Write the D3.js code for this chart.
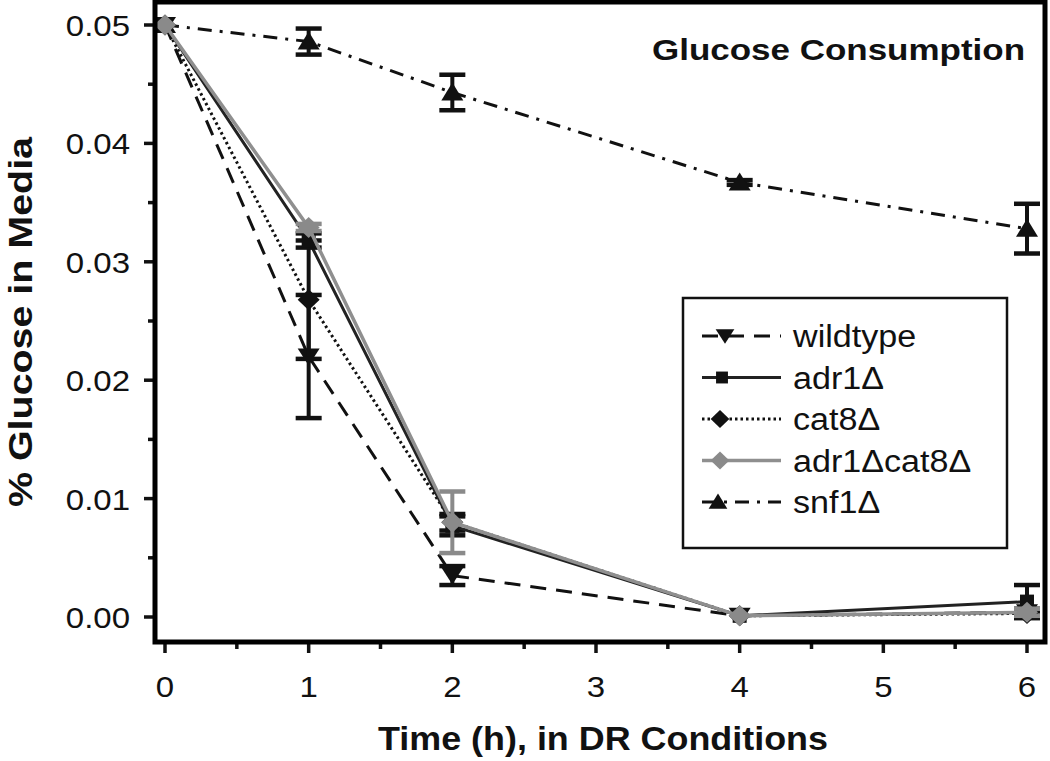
<!DOCTYPE html>
<html><head><meta charset="utf-8">
<script src="https://cdn.jsdelivr.net/npm/d3@7"></script>
<style>body{margin:0;background:#fff;} svg{display:block;font-family:"Liberation Sans",Arial,sans-serif;}</style>
</head><body>
<svg id="c" width="1050" height="761"></svg>
<script>
const times = [0, 1, 2, 4, 6];
const seriesNames = ["wildtype", "adr1Δ", "cat8Δ", "adr1Δcat8Δ", "snf1Δ"];
const wildtype = [0.0500, 0.0220, 0.0035, 0.0001, 0.0004];
const wildtypeErr = [0, 0.0052, 0.0008, 0.0001, 0.0003];
const adr1 = [0.0500, 0.0318, 0.0077, 0.0001, 0.0013];
const adr1Err = [0, 0.0006, 0.0008, 0.0001, 0.0014];
const cat8 = [0.0500, 0.0268, 0.0080, 0.0001, 0.0003];
const cat8Err = [0, 0.0050, 0.0007, 0.0001, 0.0002];
const adr1cat8 = [0.0500, 0.0329, 0.0080, 0.0001, 0.0004];
const adr1cat8Err = [0, 0.0003, 0.0026, 0.0001, 0.0003];
const snf1 = [0.0500, 0.0486, 0.0443, 0.0367, 0.0328];
const snf1Err = [0, 0.0011, 0.0015, 0.0002, 0.0021];
const xTicks = [0, 1, 2, 3, 4, 5, 6];
const yTicks = [0, 0.01, 0.02, 0.03, 0.04, 0.05];
const chartTitle = "Glucose Consumption";
const xLabel = "Time (h), in DR Conditions";
const yLabel = "% Glucose in Media";

const svg = d3.select("#c");
const frame = {l: 155, r: 1045, t: 2, b: 642};
const x = d3.scaleLinear().domain([0, 6]).range([165, 1027]);
const y = d3.scaleLinear().domain([0, 0.05]).range([617, 25]);

// horizontal stretch of the original artwork's text
function stretch(sel, k) {
  sel.each(function () {
    const w = this.getComputedTextLength();
    d3.select(this).attr("textLength", w * k).attr("lengthAdjust", "spacingAndGlyphs");
  });
}
function fitLen(sel, len) {
  sel.attr("textLength", len).attr("lengthAdjust", "spacingAndGlyphs");
}

const series = [
  {name: seriesNames[4], v: snf1, e: snf1Err, color: "#111", mcolor: "#111", dash: "14,8,3,8", marker: "up", w: 3},
  {name: seriesNames[0], v: wildtype, e: wildtypeErr, color: "#111", mcolor: "#111", dash: "16,10", marker: "down", w: 3},
  {name: seriesNames[2], v: cat8, e: cat8Err, color: "#111", mcolor: "#111", dash: "2.5,3", marker: "diamond", w: 3},
  {name: seriesNames[1], v: adr1, e: adr1Err, color: "#222", mcolor: "#111", dash: null, marker: "square", w: 3},
  {name: seriesNames[3], v: adr1cat8, e: adr1cat8Err, color: "#8f8f8f", mcolor: "#8a8a8a", dash: null, marker: "diamond", w: 3.5}
];

function markerPath(type) {
  if (type === "up") return "M0,-10L11,8L-11,8Z";
  if (type === "down") return "M0,9L11,-8L-11,-8Z";
  if (type === "square") return "M-7,-7H7V7H-7Z";
  return "M0,-10.5L11,0L0,10.5L-11,0Z";
}

// axes ticks (outward)
const xAxis = svg.append("g").attr("transform", `translate(0,${frame.b})`);
xAxis.selectAll("line.maj").data(xTicks).join("line")
  .attr("x1", d => x(d)).attr("x2", d => x(d)).attr("y1", 0).attr("y2", 11)
  .attr("stroke", "#111").attr("stroke-width", 3.5);
xAxis.selectAll("line.min").data(xTicks.slice(0, -1)).join("line").attr("class", "min")
  .attr("x1", d => x(d + 0.5)).attr("x2", d => x(d + 0.5)).attr("y1", 0).attr("y2", 7)
  .attr("stroke", "#111").attr("stroke-width", 3.5);
xAxis.selectAll("text").data(xTicks).join("text")
  .attr("x", d => x(d)).attr("y", 55).attr("text-anchor", "middle")
  .attr("font-size", 30).attr("fill", "#111").text(d => d)
  .call(stretch, 1.1);

const yAxis = svg.append("g").attr("transform", `translate(${frame.l},0)`);
yAxis.selectAll("line.maj").data(yTicks).join("line")
  .attr("x1", -11).attr("x2", 0).attr("y1", d => y(d)).attr("y2", d => y(d))
  .attr("stroke", "#111").attr("stroke-width", 3.5);
yAxis.selectAll("line.min").data(yTicks.slice(0, -1)).join("line").attr("class", "min")
  .attr("x1", -7).attr("x2", 0).attr("y1", d => y(d + 0.005)).attr("y2", d => y(d + 0.005))
  .attr("stroke", "#111").attr("stroke-width", 3.5);
yAxis.selectAll("text").data(yTicks).join("text")
  .attr("x", -25).attr("y", d => y(d) + 11).attr("text-anchor", "end")
  .attr("font-size", 30).attr("fill", "#111").text(d => d3.format(".2f")(d))
  .call(stretch, 1.1);

// series
const line = d3.line().x(d => x(d[0])).y(d => y(d[1]));
series.forEach(s => {
  const pts = times.map((t, i) => [t, s.v[i], s.e[i]]);
  const g = svg.append("g");
  g.append("path").datum(pts).attr("d", line).attr("fill", "none")
    .attr("stroke", s.color).attr("stroke-width", s.w)
    .attr("stroke-dasharray", s.dash);
  const eb = pts.filter(p => p[2] > 0.00015);
  g.selectAll("line.v").data(eb).join("line")
    .attr("x1", d => x(d[0])).attr("x2", d => x(d[0]))
    .attr("y1", d => y(d[1] - d[2])).attr("y2", d => y(d[1] + d[2]))
    .attr("stroke", s.mcolor).attr("stroke-width", 4);
  [-1, 1].forEach(sg => {
    g.selectAll("line.c" + sg).data(eb).join("line")
      .attr("x1", d => x(d[0]) - 13).attr("x2", d => x(d[0]) + 13)
      .attr("y1", d => y(d[1] + sg * d[2])).attr("y2", d => y(d[1] + sg * d[2]))
      .attr("stroke", s.mcolor).attr("stroke-width", 4.5);
  });
  g.selectAll("path.m").data(pts).join("path")
    .attr("d", markerPath(s.marker))
    .attr("transform", d => `translate(${x(d[0])},${y(d[1])})`)
    .attr("fill", s.mcolor);
});

// frame
svg.append("rect").attr("x", frame.l).attr("y", frame.t)
  .attr("width", frame.r - frame.l).attr("height", frame.b - frame.t)
  .attr("fill", "none").attr("stroke", "#000").attr("stroke-width", 5);

// title
svg.append("text").attr("x", 652).attr("y", 60)
  .attr("font-size", 30).attr("font-weight", "bold").attr("fill", "#111").text(chartTitle)
  .call(fitLen, 373);

// legend
const leg = svg.append("g");
leg.append("rect").attr("x", 683).attr("y", 298).attr("width", 324).attr("height", 250)
  .attr("fill", "#fff").attr("stroke", "#111").attr("stroke-width", 2.5);
const legOrder = [1, 3, 2, 4, 0].map(i => series[i]);
const legMarkerX = [725, 722, 720, 720, 718];
legOrder.forEach((s, i) => {
  const yy = 336 + i * 41.5;
  leg.append("line").attr("x1", 702).attr("x2", 781).attr("y1", yy).attr("y2", yy)
    .attr("stroke", s.color).attr("stroke-width", s.w).attr("stroke-dasharray", s.dash);
  leg.append("path").attr("d", markerPath(s.marker))
    .attr("transform", `translate(${legMarkerX[i]},${yy}) scale(0.85)`)
    .attr("fill", s.mcolor);
  leg.append("text").attr("x", 793).attr("y", yy + 11).attr("font-size", 31)
    .attr("fill", "#111").text(s.name).call(stretch, 1.1);
});

// axis labels
svg.append("text").attr("x", 378).attr("y", 750)
  .attr("font-size", 34).attr("font-weight", "bold").attr("fill", "#111").text(xLabel)
  .call(fitLen, 450);
svg.append("text").attr("transform", "translate(32,507) rotate(-90)")
  .attr("font-size", 33).attr("font-weight", "bold").attr("fill", "#111").text(yLabel)
  .call(fitLen, 370);
</script>
</body></html>
